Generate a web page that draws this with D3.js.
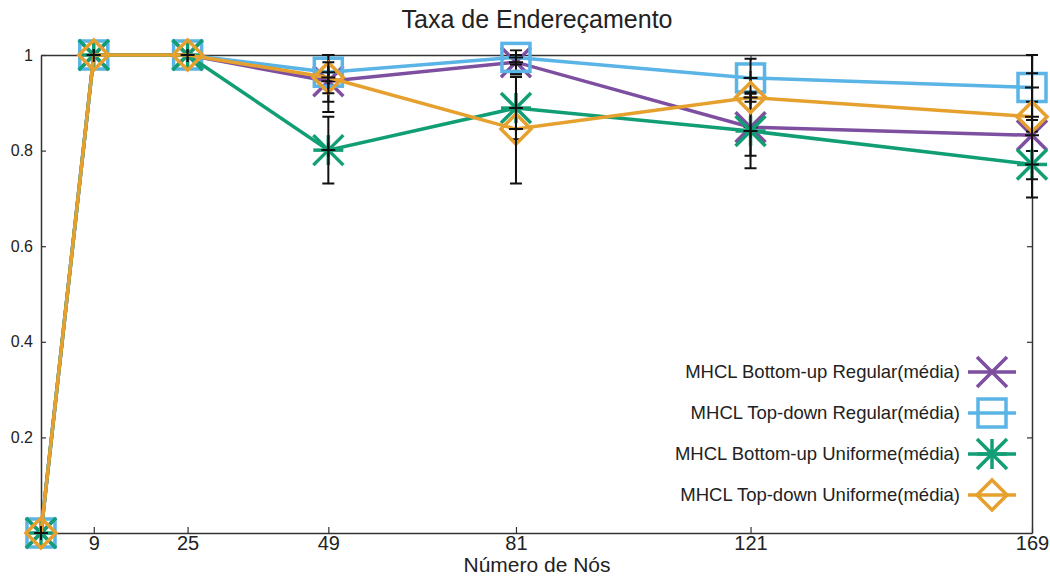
<!DOCTYPE html>
<html>
<head>
<meta charset="utf-8">
<script src="https://cdn.jsdelivr.net/npm/d3@7"></script>
<style>
  body { margin: 0; background: #fff; }
  text { font-family: "Liberation Sans", Arial, sans-serif; fill: #222; }
</style>
</head>
<body>
<div id="chart"></div>
<script>
// number of nodes (x) and tick labels
const nodes = [0, 9, 25, 49, 81, 121, 169];
const xTicks = [9, 25, 49, 81, 121, 169];
const yTicks = [0.2, 0.4, 0.6, 0.8, 1];

// mean values per series
const buRegular = [0, 1, 1, 0.945, 0.985, 0.849, 0.832];
const tdRegular = [0, 1, 1, 0.964, 0.995, 0.952, 0.932];
const buUniforme = [0, 1, 1, 0.801, 0.889, 0.841, 0.771];
const tdUniforme = [0, 1, 1, 0.953, 0.845, 0.911, 0.871];

// error bar ranges (low / high)
const buRegularLow = [0, 1, 1, 0.881, 0.96, 0.789, 0.799];
const buRegularHigh = [0, 1, 1, 1.0, 1.0, 0.91, 0.864];
const tdRegularLow = [0, 1, 1, 0.902, 0.98, 0.912, 0.902];
const tdRegularHigh = [0, 1, 1, 1.0, 1.01, 0.992, 0.962];
const buUniformeLow = [0, 1, 1, 0.731, 0.824, 0.763, 0.702];
const buUniformeHigh = [0, 1, 1, 0.871, 0.954, 0.919, 0.84];
const tdUniformeLow = [0, 1, 1, 0.92, 0.731, 0.902, 0.74];
const tdUniformeHigh = [0, 1, 1, 0.985, 0.955, 0.922, 1.0];

const series = [
    {name: 'MHCL Bottom-up Regular(média)', values: buRegular, low: buRegularLow, high: buRegularHigh, color: '#7e4fa0', marker: 'x'},
    {name: 'MHCL Top-down Regular(média)', values: tdRegular, low: tdRegularLow, high: tdRegularHigh, color: '#5ab4e5', marker: 'square'},
    {name: 'MHCL Bottom-up Uniforme(média)', values: buUniforme, low: buUniformeLow, high: buUniformeHigh, color: '#129e75', marker: 'star'},
    {name: 'MHCL Top-down Uniforme(média)', values: tdUniforme, low: tdUniformeLow, high: tdUniformeHigh, color: '#e6a02e', marker: 'diamond'}
];

const width = 1050, height = 576;
const margin = {top: 55, right: 18, bottom: 43, left: 41};

const svg = d3.select('#chart')
    .append('svg')
    .attr('width', width)
    .attr('height', height);

const x = d3.scaleLinear().domain([0, 169]).range([margin.left, width - margin.right]);
const y = d3.scaleLinear().domain([0, 1]).range([height - margin.bottom, margin.top]);

// title and labels
svg.append('text')
    .attr('x', 537).attr('y', 28)
    .attr('text-anchor', 'middle')
    .style('font-size', '25px')
    .text('Taxa de Endereçamento');

svg.append('text')
    .attr('x', 537).attr('y', 572)
    .attr('text-anchor', 'middle')
    .style('font-size', '21px')
    .text('Número de Nós');

// axes (ticks pointing inward, mirrored)
const axisColor = '#333';
const axisBottomG = svg.append('g')
    .attr('transform', `translate(0, ${y(0)})`)
    .call(d3.axisBottom(x).tickValues(xTicks).tickSizeInner(-6).tickSizeOuter(0).tickPadding(3));
axisBottomG.selectAll('text').style('font-size', '20px').attr('dy', '0.71em');

const axisTopG = svg.append('g')
    .attr('transform', `translate(0, ${y(1)})`)
    .call(d3.axisTop(x).tickValues(xTicks).tickSizeInner(-6).tickSizeOuter(0).tickFormat(''));

const axisLeftG = svg.append('g')
    .attr('transform', `translate(${x(0)}, 0)`)
    .call(d3.axisLeft(y).tickValues(yTicks).tickSizeInner(-5).tickSizeOuter(0).tickPadding(8).tickFormat(d3.format('')));
axisLeftG.selectAll('text').style('font-size', '16px');

const axisRightG = svg.append('g')
    .attr('transform', `translate(${x(169)}, 0)`)
    .call(d3.axisRight(y).tickValues(yTicks).tickSizeInner(-5).tickSizeOuter(0).tickFormat(''));

[axisBottomG, axisTopG, axisLeftG, axisRightG].forEach(g => {
    g.select('.domain').attr('stroke', axisColor).attr('stroke-width', 1.5);
    g.selectAll('.tick line').attr('stroke', axisColor).attr('stroke-width', 1.2);
    g.selectAll('text').style('fill', '#222');
});

svg.append('clipPath').attr('id', 'plot-clip')
    .append('rect')
    .attr('x', x(0) - 20).attr('y', y(1.012))
    .attr('width', x(169) - x(0) + 40).attr('height', y(0) - y(1.012) + 20);

// marker drawing
function drawMarker(g, type, color, s) {
    const h = s / 2;
    if (type === 'x' || type === 'star') {
        g.append('line').attr('x1', -h).attr('y1', -h).attr('x2', h).attr('y2', h);
        g.append('line').attr('x1', -h).attr('y1', h).attr('x2', h).attr('y2', -h);
    }
    if (type === 'star') {
        g.append('line').attr('x1', -h).attr('y1', 0).attr('x2', h).attr('y2', 0);
        g.append('line').attr('x1', 0).attr('y1', -h).attr('x2', 0).attr('y2', h);
    }
    if (type === 'square') {
        g.append('rect').attr('x', -h + 1).attr('y', -h + 1).attr('width', s - 2).attr('height', s - 2).attr('fill', 'none');
    }
    if (type === 'diamond') {
        g.append('path').attr('d', `M0,${-h}L${h},0L0,${h}L${-h},0Z`).attr('fill', 'none');
    }
    g.selectAll('*').attr('stroke', color).attr('stroke-width', 3.5);
}

const line = d3.line()
    .x((d, i) => x(nodes[i]))
    .y(d => y(d));

const plot = svg.append('g');

series.forEach(s => {
    plot.append('path')
        .datum(s.values)
        .attr('fill', 'none')
        .attr('stroke', s.color)
        .attr('stroke-width', 3.5)
        .attr('d', line);

    s.values.forEach((v, i) => {
        const g = plot.append('g').attr('transform', `translate(${x(nodes[i])}, ${y(v)})`);
        drawMarker(g, s.marker, s.color, 30);
    });

    // error bars in black
    const eb = plot.append('g').attr('clip-path', 'url(#plot-clip)')
        .attr('stroke', '#111').attr('stroke-width', 2);
    s.values.forEach((v, i) => {
        const cx = x(nodes[i]);
        eb.append('line').attr('x1', cx).attr('x2', cx).attr('y1', y(s.low[i])).attr('y2', y(s.high[i]));
        eb.append('line').attr('x1', cx - 6).attr('x2', cx + 6).attr('y1', y(s.low[i])).attr('y2', y(s.low[i]));
        eb.append('line').attr('x1', cx - 6).attr('x2', cx + 6).attr('y1', y(s.high[i])).attr('y2', y(s.high[i]));
        eb.append('line').attr('x1', cx - 7).attr('x2', cx + 7).attr('y1', y(v)).attr('y2', y(v));
        eb.append('line').attr('x1', cx).attr('x2', cx).attr('y1', y(v) - 7).attr('y2', y(v) + 7);
    });
});

// legend
const legend = svg.append('g');
series.forEach((s, i) => {
    const ly = 372 + i * 41;
    legend.append('text')
        .attr('x', 960).attr('y', ly)
        .attr('dy', '0.35em')
        .attr('text-anchor', 'end')
        .style('font-size', '18.5px')
        .text(s.name);
    legend.append('line')
        .attr('x1', 968).attr('x2', 1016)
        .attr('y1', ly).attr('y2', ly)
        .attr('stroke', s.color).attr('stroke-width', 3.5);
    const g = legend.append('g').attr('transform', `translate(992, ${ly})`);
    drawMarker(g, s.marker, s.color, 30);
});
</script>
</body>
</html>
